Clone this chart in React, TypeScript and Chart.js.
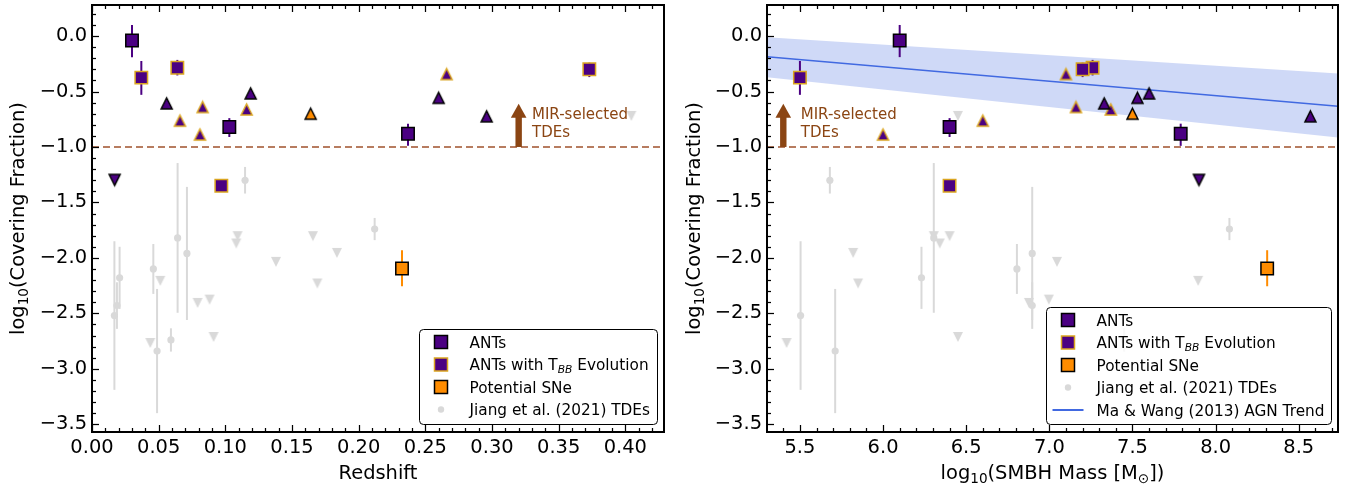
import React, { useEffect, useRef } from 'react';
import { Chart, registerables } from 'chart.js';

Chart.register(...registerables);

const FONT = "'DejaVu Sans', sans-serif";
const INDIGO = '#4B0082';
const GOLD = '#DAA520';
const ORANGE = '#FF8C00';
const GRAY = '#D9D9D9';
const BROWN = '#8B4513';
const SIENNA = '#A0522D';
const BLUE = '#4169E1';
const TICK_PX = 19.44;
const LABEL_PX = 19.44;

// ---------- axes ----------
const coverTicks = [-3.5, -3, -2.5, -2, -1.5, -1, -0.5, 0];
const coverTickLabels = ['−3.5', '−3.0', '−2.5', '−2.0', '−1.5', '−1.0', '−0.5', '0.0'];
const coverRange = [-3.57, 0.28];
const zTicks = [0, 0.05, 0.1, 0.15, 0.2, 0.25, 0.3, 0.35, 0.4];
const zTickLabels = ['0.00', '0.05', '0.10', '0.15', '0.20', '0.25', '0.30', '0.35', '0.40'];
const zRange = [0, 0.429];
const mTicks = [5.5, 6, 6.5, 7, 7.5, 8, 8.5];
const mTickLabels = ['5.5', '6.0', '6.5', '7.0', '7.5', '8.0', '8.5'];
const mRange = [5.302, 8.736];

// axis titles
type Run = { t: string; sub?: boolean; it?: boolean };
const coverTitle: Run[] = [{ t: 'log' }, { t: '10', sub: true }, { t: '(Covering Fraction)' }];
const zTitle: Run[] = [{ t: 'Redshift' }];
const mTitle: Run[] = [{ t: 'log' }, { t: '10', sub: true }, { t: '(SMBH Mass [M' }, { t: '⊙', sub: true }, { t: '])' }];

// ---------- ANTs ----------
const antZ = [0.030, 0.103, 0.237];
const antM = [6.10, 6.40, 7.79];
const antF = [-0.04, -0.82, -0.88];
const antErrUp = [0.14, 0.08, 0.09];
const antErrDn = [0.15, 0.09, 0.11];

const antTriZ = [0.056, 0.119, 0.260, 0.296];
const antTriM = [7.33, 7.60, 7.53, 8.57];
const antTriF = [-0.607, -0.517, -0.557, -0.724];

const antLimZ = [0.017];
const antLimM = [7.90];
const antLimF = [-1.297];

// ---------- ANTs with T_BB evolution ----------
const tbbZ = [0.037, 0.064, 0.097, 0.373];
const tbbM = [5.50, 7.26, 6.40, 7.20];
const tbbF = [-0.375, -0.285, -1.35, -0.30];
const tbbErrUp = [0.15, 0.07, 0, 0.06];
const tbbErrDn = [0.155, 0.07, 0, 0.07];

const tbbTriZ = [0.066, 0.083, 0.081, 0.116, 0.266];
const tbbTriM = [6.60, 7.16, 6.00, 7.37, 7.10];
const tbbTriF = [-0.763, -0.640, -0.888, -0.662, -0.343];

// ---------- Potential SNe ----------
const sneZ = [0.2325];
const sneM = [8.31];
const sneF = [-2.096];
const sneErrUp = [0.165];
const sneErrDn = [0.16];

const sneTriZ = [0.164];
const sneTriM = [7.50];
const sneTriF = [-0.70];

// ---------- Jiang et al. (2021) TDEs ----------
const jiangZ = [0.0168, 0.0187, 0.0207, 0.046, 0.0488, 0.0592, 0.0642, 0.0712, 0.1148, 0.212];
const jiangM = [5.504, 6.897, 6.231, 6.805, 5.712, 7.45, 6.305, 6.897, 5.68, 8.083];
const jiangF = [-2.52, -2.43, -2.18, -2.10, -2.84, -2.74, -1.82, -1.96, -1.30, -1.74];
const jiangErr = [0.67, 0.21, 0.28, 0.225, 0.56, 0.105, 0.675, 0.60, 0.12, 0.10];

const jiangLimZ = [0.0437, 0.0512, 0.0792, 0.0882, 0.0912, 0.1092, 0.1082, 0.138, 0.1657, 0.169, 0.1837, 0.4045];
const jiangLimM = [5.42, 7.895, 6.877, 6.997, 6.45, 6.305, 6.341, 7.046, 6.40, 5.85, 5.82, 6.45];
const jiangLimF = [-2.767, -2.207, -2.406, -2.376, -2.713, -1.804, -1.870, -2.036, -1.804, -2.231, -1.955, -0.72];

// ---------- Ma & Wang (2013) AGN trend ----------
const trendM = [5.302, 8.736];
const trendF = [-0.186, -0.633];
const trendUpper = [-0.011, -0.337];
const trendLower = [-0.372, -0.915];

// ---------- MIR-selected TDE threshold ----------
const thresholdF = -1.0;
const arrowTipF = -0.61;
const arrowZ = 0.320;
const arrowM = 5.40;
const labelZ = 0.330;
const labelM = 5.505;
const labelLines = ['MIR-selected', 'TDEs'];
const labelLineF = [-0.751, -0.908];

const zip = (xs: number[], ys: number[]) => xs.map((x, i) => ({ x, y: ys[i] }));

function triCanvas(fill: string, edge: string | null, size: number, lw: number, down: boolean) {
  const pad = 4;
  const c = document.createElement('canvas');
  c.width = size + 2 * pad;
  c.height = size + 2 * pad;
  const g = c.getContext('2d')!;
  g.beginPath();
  if (!down) {
    g.moveTo(pad + size / 2, pad);
    g.lineTo(pad + size, pad + size);
    g.lineTo(pad, pad + size);
  } else {
    g.moveTo(pad, pad);
    g.lineTo(pad + size, pad);
    g.lineTo(pad + size / 2, pad + size);
  }
  g.closePath();
  g.fillStyle = fill;
  g.fill();
  if (edge && lw > 0) {
    g.lineWidth = lw;
    g.strokeStyle = edge;
    g.lineJoin = 'miter';
    g.stroke();
  }
  return c;
}

function roundRectPath(ctx: CanvasRenderingContext2D, x: number, y: number, w: number, h: number, r: number) {
  ctx.beginPath();
  ctx.moveTo(x + r, y);
  ctx.lineTo(x + w - r, y);
  ctx.arcTo(x + w, y, x + w, y + r, r);
  ctx.lineTo(x + w, y + h - r);
  ctx.arcTo(x + w, y + h, x + w - r, y + h, r);
  ctx.lineTo(x + r, y + h);
  ctx.arcTo(x, y + h, x, y + h - r, r);
  ctx.lineTo(x, y + r);
  ctx.arcTo(x, y, x + r, y, r);
  ctx.closePath();
}

function richWidth(ctx: CanvasRenderingContext2D, runs: Run[], size: number) {
  let w = 0;
  runs.forEach((r) => {
    ctx.font = `${r.it ? 'italic ' : ''}${r.sub ? size * 0.7 : size}px ${FONT}`;
    w += ctx.measureText(r.t).width;
  });
  return w;
}
function richDraw(ctx: CanvasRenderingContext2D, runs: Run[], size: number, x: number, y: number) {
  let cx = x;
  runs.forEach((r) => {
    ctx.font = `${r.it ? 'italic ' : ''}${r.sub ? size * 0.7 : size}px ${FONT}`;
    ctx.fillText(r.t, cx, r.sub ? y + size * 0.22 : y);
    cx += ctx.measureText(r.t).width;
  });
}

type LegendItem = { kind: 'square' | 'circle' | 'line'; fill: string; edge?: string; text: Run[] };

const legendBase: LegendItem[] = [
  { kind: 'square', fill: INDIGO, edge: '#000', text: [{ t: 'ANTs' }] },
  { kind: 'square', fill: INDIGO, edge: GOLD, text: [{ t: 'ANTs with T' }, { t: 'BB', sub: true, it: true }, { t: ' Evolution' }] },
  { kind: 'square', fill: ORANGE, edge: '#000', text: [{ t: 'Potential SNe' }] },
  { kind: 'circle', fill: GRAY, text: [{ t: 'Jiang et al. (2021) TDEs' }] },
];
const legendRight: LegendItem[] = [
  ...legendBase,
  { kind: 'line', fill: BLUE, text: [{ t: 'Ma & Wang (2013) AGN Trend' }] },
];

type DecorCfg = {
  xMinor: number;
  xMajor: number;
  arrowX: number;
  labelX: number;
  legend: LegendItem[];
  xTitle: Run[];
  yTitle: Run[];
};

function makeDecor(cfg: DecorCfg) {
  return {
    id: 'decor',
    beforeDatasetDraw(chart: any, args: any) {
      const ds: any = chart.data.datasets[args.index];
      if (!ds.errUp) return;
      const { ctx } = chart;
      const xs = chart.scales.x;
      const ys = chart.scales.y;
      ctx.save();
      ctx.strokeStyle = ds.errColor;
      ctx.lineWidth = 2;
      ds.data.forEach((p: any, i: number) => {
        const up = ds.errUp[i];
        const dn = ds.errDn[i];
        if (!up && !dn) return;
        const px = xs.getPixelForValue(p.x);
        ctx.beginPath();
        ctx.moveTo(px, ys.getPixelForValue(p.y + up));
        ctx.lineTo(px, ys.getPixelForValue(p.y - dn));
        ctx.stroke();
      });
      ctx.restore();
    },
    afterDraw(chart: any) {
      const { ctx, chartArea: a } = chart;
      const xs = chart.scales.x;
      const ys = chart.scales.y;

      // arrow
      const ax = xs.getPixelForValue(cfg.arrowX);
      const ay0 = ys.getPixelForValue(thresholdF);
      const ay1 = ys.getPixelForValue(arrowTipF);
      ctx.save();
      ctx.fillStyle = BROWN;
      const headL = 14;
      ctx.fillRect(ax - 3.2, ay1 + headL - 1, 6.4, ay0 - (ay1 + headL - 1));
      ctx.beginPath();
      ctx.moveTo(ax, ay1);
      ctx.lineTo(ax - 7.8, ay1 + headL);
      ctx.lineTo(ax + 7.8, ay1 + headL);
      ctx.closePath();
      ctx.fill();
      ctx.font = `15px ${FONT}`;
      ctx.textAlign = 'left';
      ctx.textBaseline = 'alphabetic';
      const lx = xs.getPixelForValue(cfg.labelX);
      labelLines.forEach((t, i) => ctx.fillText(t, lx, ys.getPixelForValue(labelLineF[i])));
      ctx.restore();

      // legend
      const items = cfg.legend;
      ctx.save();
      const maxW = Math.max(...items.map((it) => richWidth(ctx, it.text, 15.3)));
      const bw = Math.round(50 + maxW + 7);
      const bh = Math.round(27 + (items.length - 1) * 22.5);
      const bx = Math.round(a.right - 7 - bw) + 0.5;
      const by = Math.round(a.bottom - 8.5 - bh) + 0.5;
      roundRectPath(ctx, bx, by, bw, bh, 4);
      ctx.fillStyle = 'rgba(255,255,255,0.8)';
      ctx.fill();
      ctx.strokeStyle = '#000';
      ctx.lineWidth = 1;
      ctx.stroke();
      items.forEach((it, i) => {
        const cy = by + 12.5 + i * 22.5;
        const mx = bx + 21.5;
        if (it.kind === 'square') {
          ctx.fillStyle = it.fill;
          ctx.fillRect(mx - 6.5, cy - 6.5, 13, 13);
          ctx.strokeStyle = it.edge!;
          ctx.lineWidth = 1.5;
          ctx.strokeRect(mx - 6.5, cy - 6.5, 13, 13);
        } else if (it.kind === 'circle') {
          ctx.fillStyle = it.fill;
          ctx.beginPath();
          ctx.arc(mx, cy, 3.2, 0, Math.PI * 2);
          ctx.fill();
        } else {
          ctx.strokeStyle = it.fill;
          ctx.lineWidth = 2;
          ctx.beginPath();
          ctx.moveTo(bx + 6, cy);
          ctx.lineTo(bx + 37, cy);
          ctx.stroke();
        }
        ctx.fillStyle = '#000';
        ctx.textAlign = 'left';
        ctx.textBaseline = 'alphabetic';
        richDraw(ctx, it.text, 15.3, bx + 50, cy + 5.5);
      });
      ctx.restore();

      // axis titles
      ctx.save();
      ctx.fillStyle = '#000';
      ctx.textAlign = 'left';
      ctx.textBaseline = 'alphabetic';
      const xw = richWidth(ctx, cfg.xTitle, LABEL_PX);
      richDraw(ctx, cfg.xTitle, LABEL_PX, (a.left + a.right) / 2 - xw / 2, 479);
      const yw = richWidth(ctx, cfg.yTitle, LABEL_PX);
      ctx.translate(24, (a.top + a.bottom) / 2);
      ctx.rotate(-Math.PI / 2);
      richDraw(ctx, cfg.yTitle, LABEL_PX, -yw / 2, 0);
      ctx.restore();

      // spines and inward ticks
      ctx.save();
      ctx.strokeStyle = '#000';
      ctx.lineWidth = 2;
      ctx.strokeRect(a.left, a.top, a.right - a.left, a.bottom - a.top);
      ctx.lineWidth = 1.25;
      const tick = (x1: number, y1: number, x2: number, y2: number) => {
        ctx.beginPath();
        ctx.moveTo(x1, y1);
        ctx.lineTo(x2, y2);
        ctx.stroke();
      };
      const yMin = ys.min, yMax = ys.max;
      for (let i = Math.ceil(yMin / 0.1 - 1e-6); i <= Math.floor(yMax / 0.1 + 1e-6); i++) {
        const v = i * 0.1;
        const major = Math.abs(v / 0.5 - Math.round(v / 0.5)) < 1e-6;
        const py = Math.round(ys.getPixelForValue(v)) + 0.5;
        tick(a.left, py, a.left + (major ? 7 : 4), py);
      }
      const xMin = xs.min, xMax = xs.max;
      const st = cfg.xMinor;
      for (let i = Math.ceil(xMin / st - 1e-6); i <= Math.floor(xMax / st + 1e-6); i++) {
        const v = i * st;
        const r = v / cfg.xMajor;
        const major = Math.abs(r - Math.round(r)) < 1e-6;
        const px = Math.round(xs.getPixelForValue(v)) + 0.5;
        const len = major ? 7 : 4;
        tick(px, a.bottom, px, a.bottom - len);
        tick(px, a.top, px, a.top + len);
      }
      ctx.restore();
    },
  };
}

type PanelSpec = {
  xs: {
    ant: number[]; antTri: number[]; antLim: number[]; tbb: number[]; tbbTri: number[];
    sne: number[]; sneTri: number[]; jiang: number[]; jiangLim: number[];
  };
  xTicks: number[];
  xTickLabels: string[];
  xRange: number[];
  yAxisWidth: number;
  padRight: number;
  trend: boolean;
  decor: DecorCfg;
};

function buildChart(canvas: HTMLCanvasElement, p: PanelSpec) {
  const triAnt = triCanvas(INDIGO, '#000', 11, 1.5, false);
  const triTbb = triCanvas(INDIGO, GOLD, 11, 1.5, false);
  const triSne = triCanvas(ORANGE, '#000', 11, 1.5, false);
  const triLim = triCanvas(INDIGO, '#000', 11, 1.5, true);
  const triGray = triCanvas(GRAY, null, 10, 0, true);

  const datasets: any[] = [
    {
      label: 'ANTs', data: zip(p.xs.ant, antF), pointStyle: 'rect', pointRadius: 8.8,
      backgroundColor: INDIGO, borderColor: '#000', borderWidth: 1.5,
      errUp: antErrUp, errDn: antErrDn, errColor: INDIGO, order: 1,
    },
    {
      label: 'ANTs with T_BB Evolution', data: zip(p.xs.tbb, tbbF), pointStyle: 'rect', pointRadius: 8.8,
      backgroundColor: INDIGO, borderColor: GOLD, borderWidth: 1.5,
      errUp: tbbErrUp, errDn: tbbErrDn, errColor: INDIGO, order: 1,
    },
    {
      label: 'Potential SNe', data: zip(p.xs.sne, sneF), pointStyle: 'rect', pointRadius: 8.8,
      backgroundColor: ORANGE, borderColor: '#000', borderWidth: 1.5,
      errUp: sneErrUp, errDn: sneErrDn, errColor: ORANGE, order: 1,
    },
    { label: 'ANTs (tri)', data: zip(p.xs.antTri, antTriF), pointStyle: triAnt, pointRadius: 6, order: 2 },
    { label: 'T_BB (tri)', data: zip(p.xs.tbbTri, tbbTriF), pointStyle: triTbb, pointRadius: 6, order: 2 },
    { label: 'SNe (tri)', data: zip(p.xs.sneTri, sneTriF), pointStyle: triSne, pointRadius: 6, order: 2 },
    { label: 'ANTs (limit)', data: zip(p.xs.antLim, antLimF), pointStyle: triLim, pointRadius: 6, order: 2 },
    {
      type: 'line', label: 'MIR threshold',
      data: [{ x: p.xRange[0], y: thresholdF }, { x: p.xRange[1], y: thresholdF }],
      borderColor: SIENNA, borderWidth: 1.6, borderDash: [7, 4], pointRadius: 0, fill: false, order: 4,
    },
    {
      label: 'Jiang et al. (2021) TDEs', data: zip(p.xs.jiang, jiangF), pointStyle: 'circle', pointRadius: 3.6,
      backgroundColor: GRAY, borderWidth: 0, errUp: jiangErr, errDn: jiangErr, errColor: GRAY, order: 5,
    },
    { label: 'Jiang (limit)', data: zip(p.xs.jiangLim, jiangLimF), pointStyle: triGray, pointRadius: 5, order: 5 },
  ];
  if (p.trend) {
    datasets.push(
      {
        type: 'line', label: 'Ma & Wang (2013) AGN Trend', data: zip(trendM, trendF),
        borderColor: BLUE, borderWidth: 1.6, pointRadius: 0, fill: false, order: 6,
      },
      {
        type: 'line', label: 'band upper', data: zip(trendM, trendUpper),
        borderWidth: 0, borderColor: 'rgba(0,0,0,0)', pointRadius: 0,
        fill: '+1', backgroundColor: 'rgba(65,105,225,0.25)', order: 7,
      },
      {
        type: 'line', label: 'band lower', data: zip(trendM, trendLower),
        borderWidth: 0, borderColor: 'rgba(0,0,0,0)', pointRadius: 0, fill: false, order: 7,
      },
    );
  }

  return new Chart(canvas, {
    type: 'scatter',
    data: { datasets },
    plugins: [makeDecor(p.decor)],
    options: {
      responsive: false,
      animation: false,
      events: [],
      layout: { autoPadding: false, padding: { left: 0, right: p.padRight, top: 5, bottom: 0 } },
      plugins: { legend: { display: false }, tooltip: { enabled: false } },
      scales: {
        x: {
          type: 'linear',
          min: p.xRange[0],
          max: p.xRange[1],
          grid: { display: false, drawTicks: false },
          border: { display: false },
          afterBuildTicks: (s: any) => { s.ticks = p.xTicks.map((v) => ({ value: v })); },
          afterFit: (s: any) => { s.height = 55; s.paddingLeft = 0; s.paddingRight = 0; },
          ticks: {
            autoSkip: false, maxRotation: 0, padding: 4, color: '#000',
            font: { family: FONT, size: TICK_PX },
            callback: (v: any) => p.xTickLabels[p.xTicks.findIndex((t) => Math.abs(t - v) < 1e-9)],
          },
        },
        y: {
          type: 'linear',
          min: coverRange[0],
          max: coverRange[1],
          grid: { display: false, drawTicks: false },
          border: { display: false },
          afterBuildTicks: (s: any) => { s.ticks = coverTicks.map((v) => ({ value: v })); },
          afterFit: (s: any) => { s.width = p.yAxisWidth; s.paddingTop = 0; s.paddingBottom = 0; },
          ticks: {
            autoSkip: false, padding: 5, color: '#000',
            font: { family: FONT, size: TICK_PX },
            callback: (v: any) => coverTickLabels[coverTicks.findIndex((t) => Math.abs(t - v) < 1e-9)],
          },
        },
      },
    } as any,
  } as any);
}

export default function App() {
  const leftRef = useRef<HTMLCanvasElement>(null);
  const rightRef = useRef<HTMLCanvasElement>(null);

  useEffect(() => {
    Chart.defaults.font.family = FONT;
    const left = buildChart(leftRef.current!, {
      xs: {
        ant: antZ, antTri: antTriZ, antLim: antLimZ, tbb: tbbZ, tbbTri: tbbTriZ,
        sne: sneZ, sneTri: sneTriZ, jiang: jiangZ, jiangLim: jiangLimZ,
      },
      xTicks: zTicks, xTickLabels: zTickLabels, xRange: zRange,
      yAxisWidth: 92, padRight: 12, trend: false,
      decor: {
        xMinor: 0.01, xMajor: 0.05, arrowX: arrowZ, labelX: labelZ, legend: legendBase,
        xTitle: zTitle, yTitle: coverTitle,
      },
    });
    const right = buildChart(rightRef.current!, {
      xs: {
        ant: antM, antTri: antTriM, antLim: antLimM, tbb: tbbM, tbbTri: tbbTriM,
        sne: sneM, sneTri: sneTriM, jiang: jiangM, jiangLim: jiangLimM,
      },
      xTicks: mTicks, xTickLabels: mTickLabels, xRange: mRange,
      yAxisWidth: 91, padRight: 14, trend: true,
      decor: {
        xMinor: 0.1, xMajor: 0.5, arrowX: arrowM, labelX: labelM, legend: legendRight,
        xTitle: mTitle, yTitle: coverTitle,
      },
    });
    return () => {
      left.destroy();
      right.destroy();
    };
  }, []);

  return (
    <div style={{ position: 'absolute', left: 0, top: 0, width: 1352, height: 487, background: '#fff' }}>
      <canvas ref={leftRef} width={676} height={487} style={{ position: 'absolute', left: 0, top: 0, width: 676, height: 487 }} />
      <canvas ref={rightRef} width={676} height={487} style={{ position: 'absolute', left: 676, top: 0, width: 676, height: 487 }} />
    </div>
  );
}
